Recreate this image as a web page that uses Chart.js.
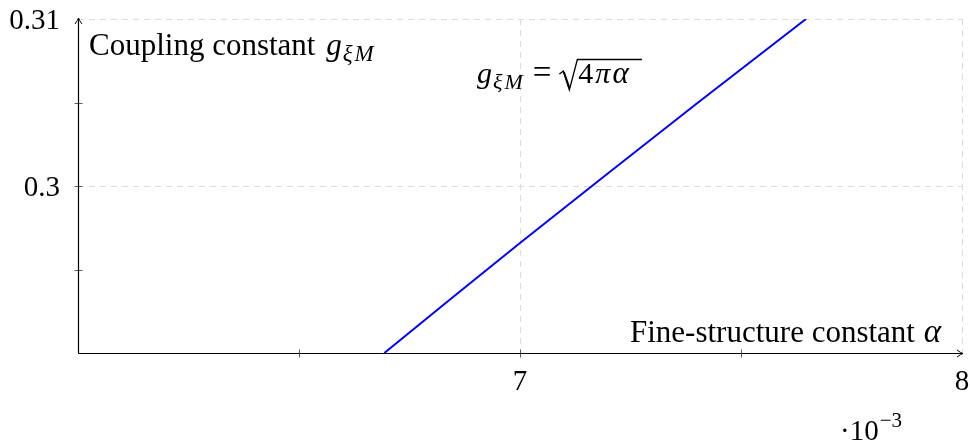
<!DOCTYPE html>
<html>
<head>
<meta charset="utf-8">
<script src="https://cdn.jsdelivr.net/npm/chart.js@4.4.1/dist/chart.umd.min.js"></script>
<style>
html,body{margin:0;padding:0;background:#fff;}
#wrap{width:970px;height:444px;}
</style>
</head>
<body>
<div id="wrap"><canvas id="c" width="970" height="444"></canvas></div>
<script>
// Data (alpha in units of 1e-3, coupling constant g)
const alphaValues = [6.693, 6.85, 7.0, 7.2, 7.4, 7.647];
const couplingValues = [0.2900, 0.29338, 0.29659, 0.30078, 0.30494, 0.3100];
const xTickLabels = ["7", "8"];
const xTickValues = [7, 8];
const xMinorTicks = [6.5, 7, 7.5];
const yTickLabels = ["0.3", "0.31"];
const yTickValues = [0.30, 0.31];
const yMinorTicks = [0.295, 0.30, 0.305];

const points = alphaValues.map((a, i) => ({x: a, y: couplingValues[i]}));

const SERIF = '"Liberation Serif", "DejaVu Serif", serif';

function drawRuns(ctx, x, y, runs) {
  let cx = x;
  for (const r of runs) {
    ctx.font = (r.italic ? 'italic ' : '') + r.size + 'px ' + SERIF;
    cx += (r.pre || 0);
    ctx.fillText(r.t, cx, y + (r.dy || 0));
    cx += ctx.measureText(r.t).width + (r.gap || 0);
  }
  return cx;
}

const axesPlugin = {
  id: 'axesPlugin',
  beforeDatasetsDraw(chart) {
    const ctx = chart.ctx;
    const xs = chart.scales.x, ys = chart.scales.y;
    const a = chart.chartArea;
    ctx.save();
    // dashed grid
    ctx.strokeStyle = '#dcdcdc';
    ctx.lineWidth = 1;
    ctx.setLineDash([6, 5]);
    xTickValues.forEach(v => {
      const px = Math.round(xs.getPixelForValue(v)) + 0.5;
      ctx.beginPath(); ctx.moveTo(px, a.top); ctx.lineTo(px, a.bottom); ctx.stroke();
    });
    yTickValues.forEach(v => {
      const py = Math.round(ys.getPixelForValue(v)) + 0.5;
      ctx.beginPath(); ctx.moveTo(a.left, py); ctx.lineTo(a.right, py); ctx.stroke();
    });
    ctx.setLineDash([]);
    // axes
    ctx.strokeStyle = '#000';
    ctx.lineWidth = 1.2;
    const x0 = Math.round(a.left) + 0.5, y0 = Math.round(a.bottom) + 0.5;
    ctx.beginPath(); ctx.moveTo(x0, y0); ctx.lineTo(a.right + 1, y0); ctx.stroke();
    ctx.beginPath(); ctx.moveTo(x0, y0); ctx.lineTo(x0, a.top - 1); ctx.stroke();
    // arrowheads
    ctx.lineWidth = 1;
    ctx.beginPath();
    ctx.moveTo(a.right - 5, y0 - 3.5); ctx.quadraticCurveTo(a.right - 1, y0 - 0.5, a.right + 1, y0);
    ctx.quadraticCurveTo(a.right - 1, y0 + 0.5, a.right - 5, y0 + 3.5);
    ctx.stroke();
    ctx.beginPath();
    ctx.moveTo(x0 - 3.5, a.top + 5); ctx.quadraticCurveTo(x0 - 0.5, a.top + 1, x0, a.top - 1);
    ctx.quadraticCurveTo(x0 + 0.5, a.top + 1, x0 + 3.5, a.top + 5);
    ctx.stroke();
    // ticks
    ctx.strokeStyle = '#333';
    ctx.lineWidth = 0.8;
    xMinorTicks.forEach(v => {
      const px = Math.round(xs.getPixelForValue(v)) + 0.5;
      ctx.beginPath(); ctx.moveTo(px, y0 - 4); ctx.lineTo(px, y0 + 4); ctx.stroke();
    });
    yMinorTicks.forEach(v => {
      const py = Math.round(ys.getPixelForValue(v)) + 0.5;
      ctx.beginPath(); ctx.moveTo(x0 - 4, py); ctx.lineTo(x0 + 4, py); ctx.stroke();
    });
    ctx.restore();
  },
  afterDatasetsDraw(chart) {
    const ctx = chart.ctx;
    const xs = chart.scales.x, ys = chart.scales.y;
    ctx.save();
    ctx.fillStyle = '#000';
    ctx.textBaseline = 'alphabetic';
    // tick labels
    ctx.font = '29px ' + SERIF;
    ctx.textAlign = 'center';
    xTickValues.forEach((v, i) => {
      ctx.fillText(xTickLabels[i], xs.getPixelForValue(v), 390);
    });
    ctx.textAlign = 'right';
    yTickValues.forEach((v, i) => {
      ctx.fillText(yTickLabels[i], 60, ys.getPixelForValue(v) + 10);
    });
    ctx.textAlign = 'left';
    // axis labels
    drawRuns(ctx, 89, 55, [
      {t: 'Coupling constant ', size: 31, gap: 3},
      {t: 'g', size: 31, italic: true, gap: 1},
      {t: 'ξ', size: 23, italic: true, dy: 6, gap: 2},
      {t: 'M', size: 23, italic: true, dy: 6}
    ]);
    drawRuns(ctx, 630, 342, [
      {t: 'Fine-structure constant ', size: 31, gap: 1},
      {t: 'α', size: 33, italic: true}
    ]);
    // formula
    let fx = drawRuns(ctx, 477, 83, [
      {t: 'g', size: 30, italic: true, gap: 1},
      {t: 'ξ', size: 22, italic: true, dy: 6, gap: 2},
      {t: 'M', size: 22, italic: true, dy: 6, gap: 10},
      {t: '=', size: 33, gap: 0}
    ]);
    // radical sign
    const rx = fx + 8;
    ctx.strokeStyle = '#000';
    ctx.lineWidth = 1.3;
    ctx.beginPath();
    ctx.moveTo(rx, 74);
    ctx.lineTo(rx + 4, 71);
    ctx.lineTo(rx + 10, 90);
    ctx.lineTo(rx + 18, 59.5);
    ctx.lineTo(642, 59.5);
    ctx.stroke();
    ctx.lineWidth = 2;
    ctx.beginPath(); ctx.moveTo(rx + 4.5, 72); ctx.lineTo(rx + 10, 88); ctx.stroke();
    drawRuns(ctx, rx + 19, 83, [
      {t: '4', size: 30, gap: 2},
      {t: 'π', size: 30, italic: true, gap: 2},
      {t: 'α', size: 31, italic: true}
    ]);
    // exponent
    drawRuns(ctx, 840, 440, [
      {t: '·10', size: 29, gap: 1},
      {t: '−3', size: 21, dy: -13}
    ]);
    ctx.restore();
  }
};

new Chart(document.getElementById('c'), {
  type: 'scatter',
  data: {
    datasets: [{
      data: points,
      showLine: true,
      borderColor: '#0000ff',
      borderWidth: 2,
      pointRadius: 0,
      tension: 0,
      fill: false
    }]
  },
  options: {
    responsive: false,
    devicePixelRatio: 1,
    animation: false,
    layout: {padding: {left: 78, right: 8, top: 19, bottom: 91}},
    plugins: {legend: {display: false}, tooltip: {enabled: false}},
    scales: {
      x: {type: 'linear', min: 6, max: 8, display: false},
      y: {type: 'linear', min: 0.29, max: 0.31, display: false}
    }
  },
  plugins: [axesPlugin]
});
</script>
</body>
</html>
